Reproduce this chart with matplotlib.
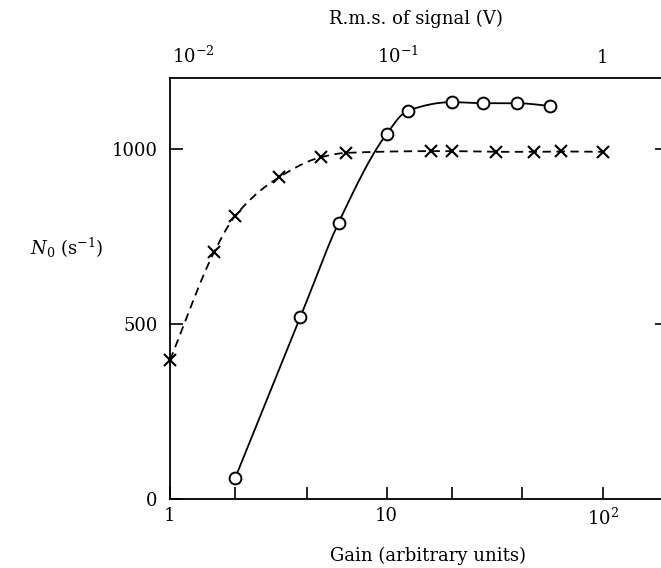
import numpy as np
import matplotlib
matplotlib.use("Agg")
import matplotlib.pyplot as plt
from matplotlib.ticker import FixedLocator, NullLocator, FixedFormatter

# ---- data ----
gain_circles = [2, 4, 6, 10, 12.5, 20, 28, 40, 57]
n0_circles = [60, 520, 789, 1043, 1109, 1134, 1131, 1131, 1123]

gain_crosses = [1, 1.6, 2, 3.2, 5, 6.5, 16, 20, 32, 48, 64, 100]
n0_crosses = [397, 706, 809, 920, 977, 989, 994, 994, 992, 992, 993, 992]

gain_ticks = [1, 2, 4.3, 10, 20, 42, 100]
gain_ticklabels = ['1', '', '', '10', '', '', '$10^{2}$']
y_ticks = [0, 500, 1000]
y_ticklabels = ['0', '500', '1000']
top_ticks = [0.01, 0.1, 1]
top_ticklabels = ['$10^{-2}$', '$10^{-1}$', '1']

plt.rcParams['font.family'] = ['DejaVu Serif']
plt.rcParams['mathtext.fontset'] = 'dejavuserif'
plt.rcParams['lines.scale_dashes'] = False
FS = 13


def pchip(x, y, xn):
    x = np.asarray(x, float)
    y = np.asarray(y, float)
    h = np.diff(x)
    d = np.diff(y) / h
    n = len(x)
    m = np.zeros(n)
    for k in range(1, n - 1):
        if d[k - 1] * d[k] <= 0:
            m[k] = 0.0
        else:
            w1 = 2 * h[k] + h[k - 1]
            w2 = h[k] + 2 * h[k - 1]
            m[k] = (w1 + w2) / (w1 / d[k - 1] + w2 / d[k])
    m[0] = d[0]
    m[-1] = d[-1]
    idx = np.clip(np.searchsorted(x, xn) - 1, 0, n - 2)
    t = (xn - x[idx]) / h[idx]
    h00 = 2 * t**3 - 3 * t**2 + 1
    h10 = t**3 - 2 * t**2 + t
    h01 = -2 * t**3 + 3 * t**2
    h11 = t**3 - t**2
    return (h00 * y[idx] + h10 * h[idx] * m[idx] +
            h01 * y[idx + 1] + h11 * h[idx] * m[idx + 1])


def smooth(xs, ys):
    lx = np.log10(xs)
    grid = np.linspace(lx[0], lx[-1], 400)
    return 10**grid, pchip(lx, ys, grid)


fig = plt.figure(figsize=(6.61, 5.68), dpi=100)
ax = fig.add_axes([170 / 661, 1 - 499 / 568, 1 - 170 / 661, (499 - 78) / 568])

ax.set_xscale('log')
ax.set_xlim(1, 185)
ax.set_ylim(0, 1203)

# solid curve with circles
sx, sy = smooth(gain_circles, n0_circles)
ax.plot(sx, sy, color='black', lw=1.3, solid_capstyle='butt')
ax.plot(gain_circles, n0_circles, 'o', ms=8.5, mfc='white', mec='black',
        mew=1.4, clip_on=False, zorder=3)

# dashed curve with crosses
dx, dy = smooth(gain_crosses, n0_crosses)
ax.plot(dx, dy, color='black', lw=1.3, linestyle=(0, (6.0, 4.0)), clip_on=False)
ax.plot(gain_crosses, n0_crosses, 'x', ms=8.5, mec='black', mew=1.5,
        clip_on=False, zorder=3)

# axes styling
ax.spines['right'].set_visible(False)
for s in ['left', 'bottom', 'top']:
    ax.spines[s].set_linewidth(1.3)

ax.xaxis.set_major_locator(FixedLocator(gain_ticks))
ax.xaxis.set_major_formatter(FixedFormatter(gain_ticklabels))
ax.xaxis.set_minor_locator(NullLocator())
ax.yaxis.set_major_locator(FixedLocator(y_ticks))
ax.yaxis.set_major_formatter(FixedFormatter(y_ticklabels))

ax.tick_params(axis='x', which='major', direction='in', length=9, width=1.2,
               top=True, bottom=True, labelsize=FS, pad=6)
ax.tick_params(axis='y', which='major', direction='in', length=9.5, width=1.2,
               left=True, right=True, labelsize=FS, pad=9)
for i, tk in enumerate(ax.yaxis.get_major_ticks()):
    tk.tick2line.set_markersize(4.5)
    if i == 0:
        tk.tick2line.set_visible(False)

# top axis: r.m.s. of signal
ax2 = ax.twiny()
ax2.set_xscale('log')
ax2.set_xlim(0.0077, 1.92)
ax2.xaxis.set_major_locator(FixedLocator(top_ticks))
ax2.xaxis.set_major_formatter(FixedFormatter(top_ticklabels))
ax2.xaxis.set_minor_locator(NullLocator())
ax2.tick_params(axis='x', which='major', length=0, labelsize=FS, pad=8)
for s in ax2.spines.values():
    s.set_visible(False)

fig.text(416 / 661, 1 - 19 / 568, 'R.m.s. of signal (V)', ha='center',
         va='center', fontsize=FS)
fig.text(428 / 661, 1 - 556 / 568, 'Gain (arbitrary units)', ha='center',
         va='center', fontsize=FS)
fig.text(67 / 661, 1 - 248 / 568, r'$N_0\ (\mathrm{s}^{-1})$', ha='center',
         va='center', fontsize=FS)

fig.savefig('out.png', dpi=100)
